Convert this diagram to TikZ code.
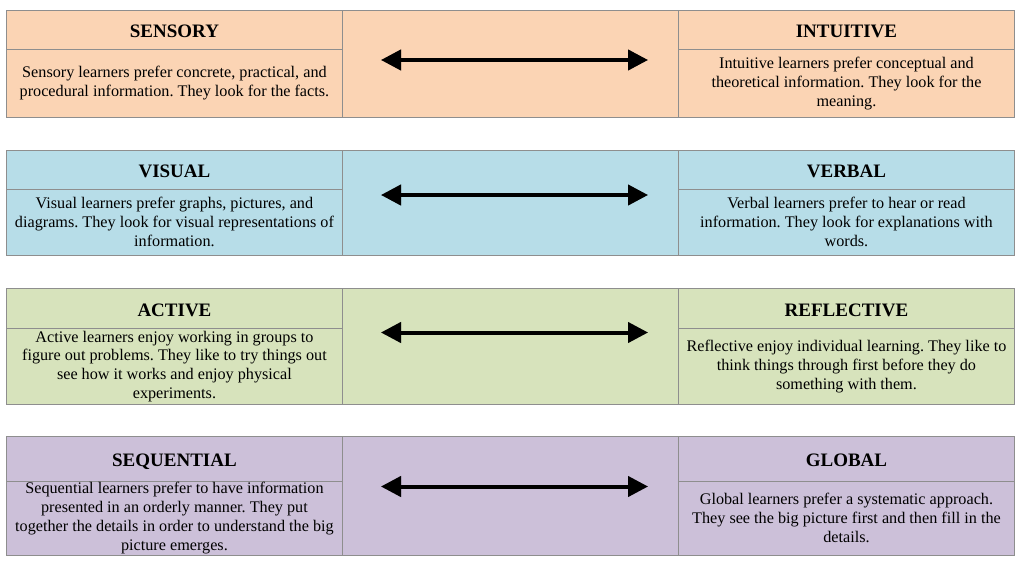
\documentclass[tikz,border=0pt]{standalone}
\usepackage{fontspec}
\setmainfont{Liberation Serif}
\usetikzlibrary{arrows.meta}

\definecolor{peach}{HTML}{FBD4B4}
\definecolor{skyblue}{HTML}{B7DDE8}
\definecolor{sage}{HTML}{D7E3BC}
\definecolor{lilac}{HTML}{CCC0D9}
\definecolor{rule}{HTML}{8E8E8E}

\newcommand\bodytext{\fontsize{16.2}{18.9}\selectfont\frenchspacing}
\newcommand\headtext{\fontsize{19}{20}\selectfont\bfseries}

\tikzset{
  cell/.style={draw=rule, line width=0.9pt, anchor=north west, align=center,
    inner xsep=2pt, inner ysep=0pt, minimum width=336pt},
  headcell/.style={cell, font=\headtext, text height=16pt, text depth=0pt},
  bodycell/.style={cell, font=\bodytext},
  midcell/.style={cell, minimum width=336pt},
  twoway/.style={line width=4pt, {Triangle[length=20pt,width=20pt]}-{Triangle[length=20pt,width=20pt]}},
  twowayshadow/.style={twoway, draw=black, opacity=0.25, xshift=1.5pt, yshift=-2.5pt}
}

\begin{document}
\begin{tikzpicture}[x=1pt, y=-1pt]
\useasboundingbox (0,0) rectangle (1024,568);

% --- Sensory / Intuitive ---
\node[midcell, fill=peach, minimum height=107pt] (r1m) at (342,10) {};
\node[headcell, fill=peach, minimum height=39pt] (r1lh) at (6,10) {SENSORY};
\node[bodycell, fill=peach, minimum height=68pt] (r1lb) at (6,49)
  {Sensory learners prefer concrete, practical, and\\procedural information. They look for the facts.};
\node[headcell, fill=peach, minimum height=39pt] (r1rh) at (678,10) {INTUITIVE};
\node[bodycell, fill=peach, minimum height=68pt] (r1rb) at (678,49)
  {Intuitive learners prefer conceptual and\\theoretical information. They look for the\\meaning.};
\coordinate (r1a) at (381,60);
\coordinate (r1b) at (648,60);
\draw[twowayshadow] (r1a) -- (r1b);
\draw[twoway] (r1a) -- (r1b);

% --- Visual / Verbal ---
\node[midcell, fill=skyblue, minimum height=105pt] (r2m) at (342,150) {};
\node[headcell, fill=skyblue, minimum height=38.5pt] (r2lh) at (6,150) {VISUAL};
\node[bodycell, fill=skyblue, minimum height=66.5pt] (r2lb) at (6,188.5)
  {Visual learners prefer graphs, pictures, and\\diagrams. They look for visual representations of\\information.};
\node[headcell, fill=skyblue, minimum height=38.5pt] (r2rh) at (678,150) {VERBAL};
\node[bodycell, fill=skyblue, minimum height=66.5pt] (r2rb) at (678,188.5)
  {Verbal learners prefer to hear or read\\information. They look for explanations with\\words.};
\coordinate (r2a) at (381,195);
\coordinate (r2b) at (648,195);
\draw[twowayshadow] (r2a) -- (r2b);
\draw[twoway] (r2a) -- (r2b);

% --- Active / Reflective ---
\node[midcell, fill=sage, minimum height=116pt] (r3m) at (342,288) {};
\node[headcell, fill=sage, minimum height=40pt] (r3lh) at (6,288) {ACTIVE};
\node[bodycell, fill=sage, minimum height=76pt] (r3lb) at (6,328)
  {Active learners enjoy working in groups to\\figure out problems. They like to try things out\\see how it works and enjoy physical\\experiments.};
\node[headcell, fill=sage, minimum height=40pt] (r3rh) at (678,288) {REFLECTIVE};
\node[bodycell, fill=sage, minimum height=76pt] (r3rb) at (678,328)
  {Reflective enjoy individual learning. They like to\\think things through first before they do\\something with them.};
\coordinate (r3a) at (381,332.5);
\coordinate (r3b) at (648,332.5);
\draw[twowayshadow] (r3a) -- (r3b);
\draw[twoway] (r3a) -- (r3b);

% --- Sequential / Global ---
\node[midcell, fill=lilac, minimum height=119pt] (r4m) at (342,436) {};
\node[headcell, fill=lilac, minimum height=44.5pt] (r4lh) at (6,436) {SEQUENTIAL};
\node[bodycell, fill=lilac, minimum height=74.5pt] (r4lb) at (6,480.5)
  {Sequential learners prefer to have information\\presented in an orderly manner. They put\\together the details in order to understand the big\\picture emerges.};
\node[headcell, fill=lilac, minimum height=44.5pt] (r4rh) at (678,436) {GLOBAL};
\node[bodycell, fill=lilac, minimum height=74.5pt] (r4rb) at (678,480.5)
  {Global learners prefer a systematic approach.\\They see the big picture first and then fill in the\\details.};
\coordinate (r4a) at (381,486.5);
\coordinate (r4b) at (648,486.5);
\draw[twowayshadow] (r4a) -- (r4b);
\draw[twoway] (r4a) -- (r4b);
\end{tikzpicture}
\end{document}
